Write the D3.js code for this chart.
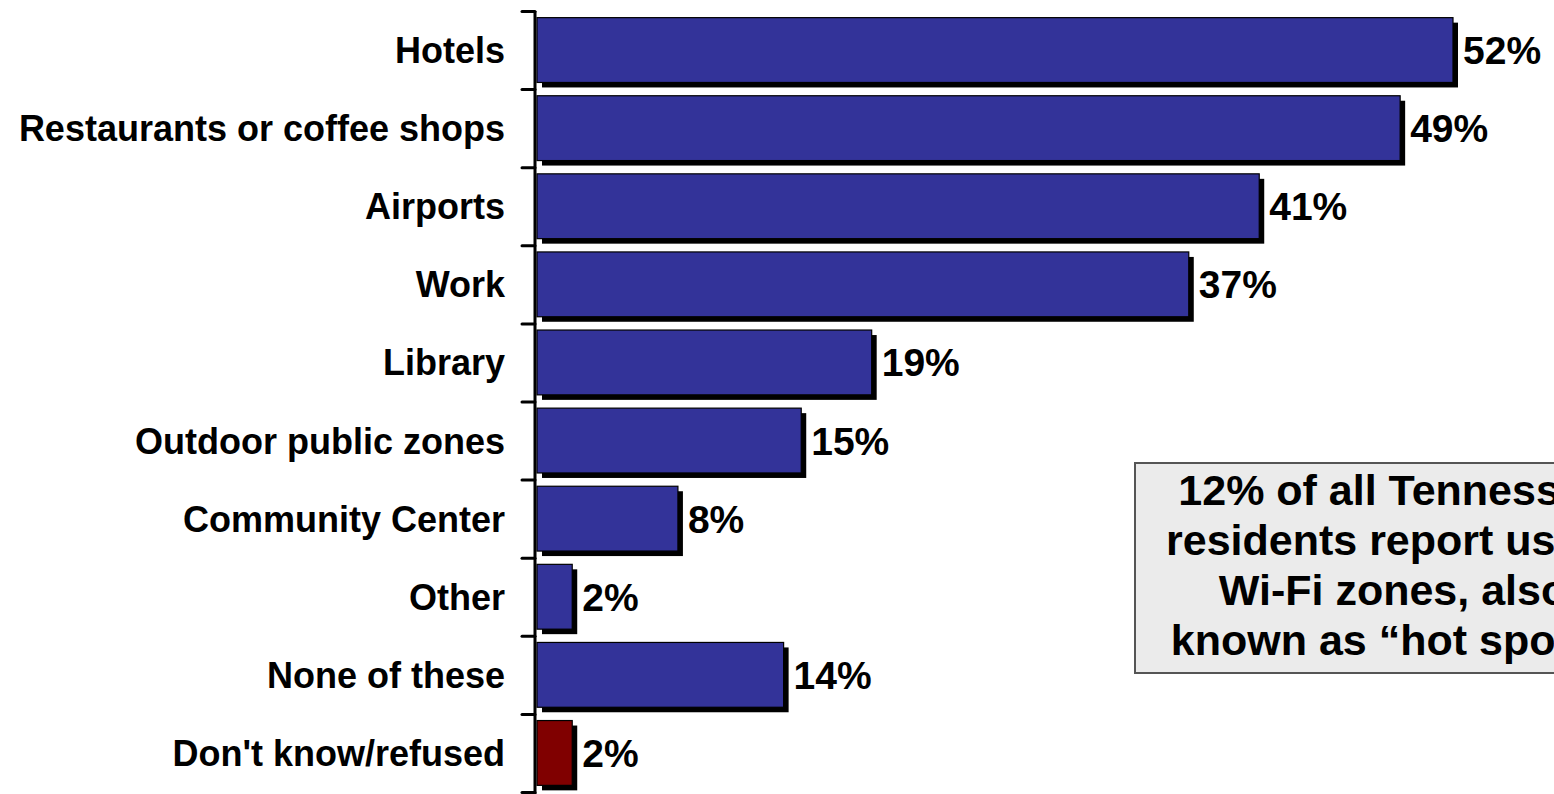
<!DOCTYPE html>
<html>
<head>
<meta charset="utf-8">
<script src="https://d3js.org/d3.v7.min.js"></script>
<style>
  body { margin: 0; background: #fff; }
  svg { display: block; font-family: "Liberation Sans", Arial, sans-serif; font-weight: bold; }
</style>
</head>
<body>
<script>
var w = 1554;
var h = 794;

// data
var categories = ["Hotels", "Restaurants or coffee shops", "Airports", "Work", "Library",
                  "Outdoor public zones", "Community Center", "Other", "None of these", "Don't know/refused"];
var values = [52, 49, 41, 37, 19, 15, 8, 2, 14, 2];
var barColors = ["#333399", "#333399", "#333399", "#333399", "#333399",
                 "#333399", "#333399", "#333399", "#333399", "#800000"];
var noteLines = ["12% of all Tennessee", "residents report using", "Wi-Fi zones, also", "known as \u201chot spots\u201d"];

var svg = d3.select("body").append("svg")
  .attr("width", w)
  .attr("height", h);

var x = d3.scaleLinear()
  .domain([0, 52])
  .range([537, 1453]);

var y = d3.scaleBand()
  .domain(categories)
  .range([11, 792])
  .paddingInner(0.17)
  .paddingOuter(0.085);

// tick positions sit on the band edges
var edges = d3.scaleLinear()
  .domain([0, categories.length])
  .range([11, 792]);

var rows = svg.selectAll("g.row")
  .data(categories)
  .enter()
  .append("g")
  .attr("class", "row");

// shadow
rows.append("rect")
  .attr("x", x(0) + 5)
  .attr("y", function(d) { return y(d) + 5; })
  .attr("width", function(d, i) { return x(values[i]) - x(0); })
  .attr("height", y.bandwidth())
  .attr("fill", "#000");

rows.append("rect")
  .attr("x", x(0))
  .attr("y", function(d) { return y(d); })
  .attr("width", function(d, i) { return x(values[i]) - x(0); })
  .attr("height", y.bandwidth())
  .attr("fill", function(d, i) { return barColors[i]; })
  .attr("stroke", "#000")
  .attr("stroke-width", 1.2);

rows.append("text")
  .attr("x", function(d, i) { return x(values[i]) + 10; })
  .attr("y", function(d) { return y(d) + y.bandwidth() / 2; })
  .attr("dy", "0.36em")
  .attr("font-size", 39)
  .attr("fill", "#000")
  .text(function(d, i) { return values[i] + "%"; });

// category labels
svg.selectAll("text.cat")
  .data(categories)
  .enter()
  .append("text")
  .attr("class", "cat")
  .attr("x", 505)
  .attr("y", function(d) { return y(d) + y.bandwidth() / 2; })
  .attr("dy", "0.36em")
  .attr("text-anchor", "end")
  .attr("font-size", 36)
  .text(function(d) { return d; });

// axis
var axis = svg.append("g")
  .attr("transform", "translate(535,0)")
  .call(d3.axisLeft(edges).ticks(10).tickSize(13).tickSizeOuter(0).tickFormat(""));
axis.select(".domain").attr("stroke-width", 3).attr("d", "M0,11V794");
axis.selectAll(".tick line").attr("stroke-width", 3).attr("stroke-linecap", "round");

// note box (runs off the right edge, as in the original slide)
var note = svg.append("g");
note.append("rect")
  .attr("x", 1135)
  .attr("y", 463)
  .attr("width", 516)
  .attr("height", 210)
  .attr("fill", "#ebebeb")
  .attr("stroke", "#555")
  .attr("stroke-width", 2);

note.selectAll("text")
  .data(noteLines)
  .enter()
  .append("text")
  .attr("x", 1393)
  .attr("y", function(d, i) { return 505 + i * 50; })
  .attr("text-anchor", "middle")
  .attr("font-size", 43)
  .text(function(d) { return d; });
</script>
</body>
</html>
